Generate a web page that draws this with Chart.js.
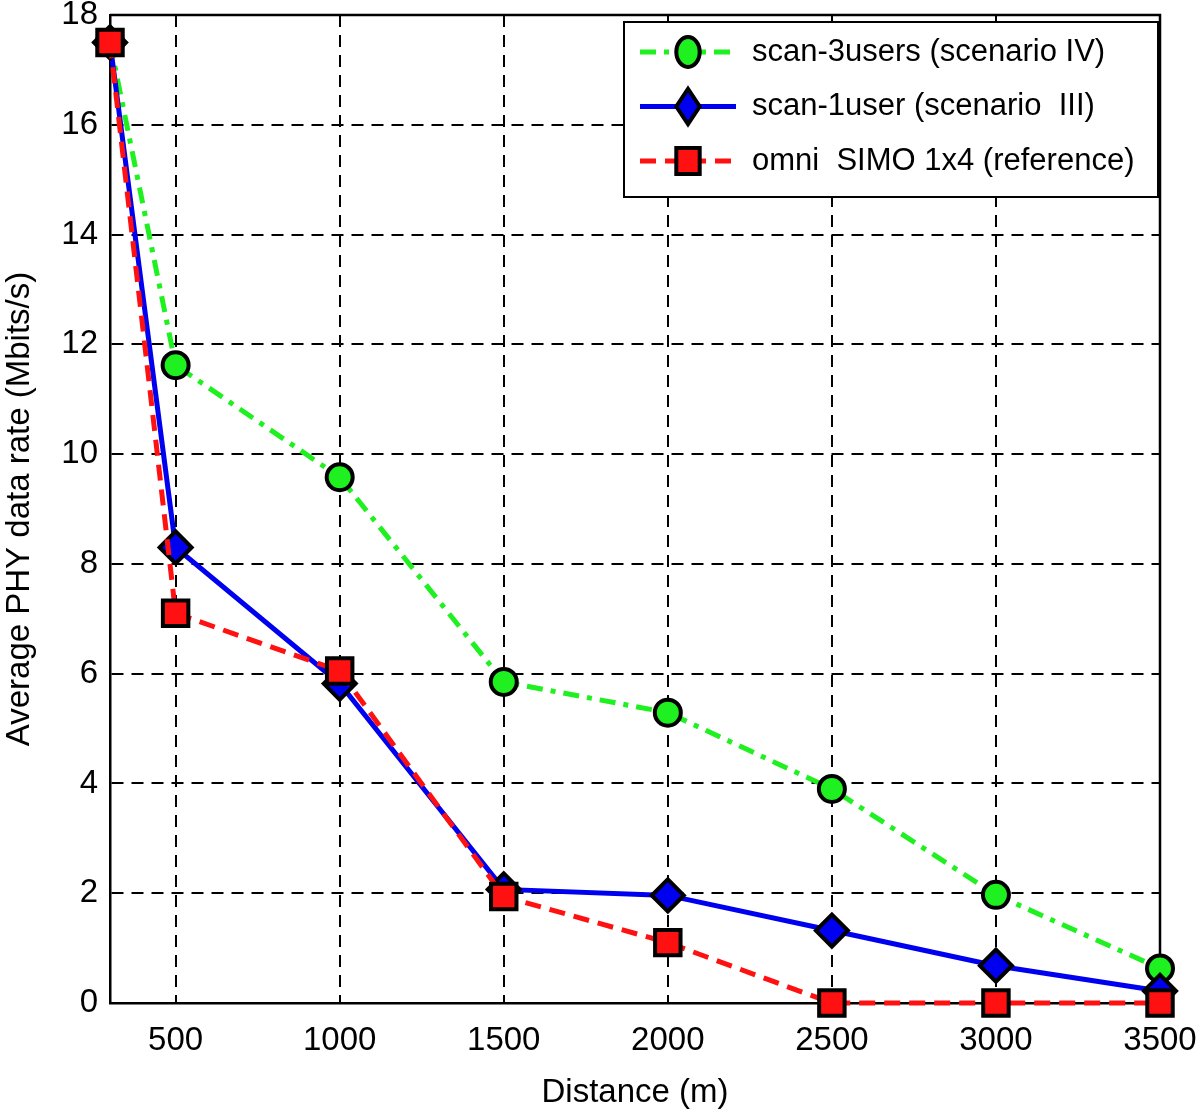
<!DOCTYPE html>
<html>
<head>
<meta charset="utf-8">
<script src="https://cdn.jsdelivr.net/npm/chart.js@4.4.1/dist/chart.umd.min.js"></script>
<style>
  html, body { margin: 0; padding: 0; background: #fff; overflow: hidden; }
  #wrap { width: 1200px; height: 1113px; overflow: hidden; }
  #C { display: block; margin-top: -7px; }
</style>
</head>
<body>
<div id="wrap"><canvas id="C" width="1200" height="1120"></canvas></div>
<script>
const distances = [300, 500, 1000, 1500, 2000, 2500, 3000, 3500];
const scan3users = [17.5, 11.62, 9.58, 5.85, 5.29, 3.9, 1.97, 0.63];
const scan1user = [17.5, 8.3, 5.82, 2.07, 1.96, 1.32, 0.68, 0.22];
const omniSimo = [17.5, 7.1, 6.05, 1.94, 1.1, 0, 0, 0];
const xTicks = [500, 1000, 1500, 2000, 2500, 3000, 3500];
const labels = ["scan-3users (scenario IV)", "scan-1user (scenario  III)", "omni  SIMO 1x4 (reference)"];

const FONT = "'Liberation Sans', Arial, sans-serif";

function pts(ys) {
  return distances.map((d, i) => ({ x: d, y: ys[i] }));
}

// frame on top and right side, like matlab box on
const boxPlugin = {
  id: "box",
  beforeDatasetsDraw(chart) {
    const a = chart.chartArea, ctx = chart.ctx;
    ctx.save();
    ctx.strokeStyle = "#000";
    ctx.lineWidth = 2.5;
    ctx.beginPath();
    ctx.moveTo(a.left, a.top);
    ctx.lineTo(a.right, a.top);
    ctx.lineTo(a.right, a.bottom);
    ctx.stroke();
    ctx.restore();
  }
};

function marker(ctx, style, x, y, r) {
  ctx.beginPath();
  if (style === "circle") {
    ctx.ellipse(x, y, r * 0.9, r * 1.15, 0, 0, Math.PI * 2);
  } else if (style === "rectRot") {
    ctx.moveTo(x, y - r * 1.35);
    ctx.lineTo(x + r * 0.9, y);
    ctx.lineTo(x, y + r * 1.35);
    ctx.lineTo(x - r * 0.9, y);
    ctx.closePath();
  } else {
    ctx.rect(x - r * 0.9, y - r * 1.0, r * 1.8, r * 2.0);
  }
  ctx.fill();
  ctx.stroke();
}

// legend box drawn inside the axes, top-right
const legendPlugin = {
  id: "boxLegend",
  afterDraw(chart) {
    const ctx = chart.ctx;
    const a = chart.chartArea;
    const x0 = 624, y0 = a.top + 7, w = 534, h = 175;
    ctx.save();
    ctx.fillStyle = "#fff";
    ctx.fillRect(x0, y0, w, h);
    ctx.strokeStyle = "#000";
    ctx.lineWidth = 2;
    ctx.strokeRect(x0, y0, w, h);
    chart.data.datasets.forEach((ds, i) => {
      const y = y0 + 30 + i * 54.5;
      ctx.strokeStyle = ds.borderColor;
      ctx.lineWidth = 5;
      ctx.setLineDash(ds.borderDash || []);
      ctx.beginPath();
      ctx.moveTo(x0 + 16, y);
      ctx.lineTo(x0 + 112, y);
      ctx.stroke();
      ctx.setLineDash([]);
      ctx.fillStyle = ds.pointBackgroundColor;
      ctx.strokeStyle = "#000";
      ctx.lineWidth = 4;
      marker(ctx, ds.pointStyle, x0 + 64, y, 13);
      ctx.fillStyle = "#000";
      ctx.font = "31px " + FONT;
      ctx.textBaseline = "middle";
      ctx.fillText(ds.label, x0 + 128, y);
    });
    ctx.restore();
  }
};

const chart = new Chart(document.getElementById("C").getContext("2d"), {
  type: "line",
  data: {
    datasets: [
      {
        label: labels[0],
        data: pts(scan3users),
        borderColor: "#1ff01f",
        borderWidth: 5,
        borderDash: [16, 8, 5, 8],
        pointStyle: "circle",
        pointRadius: 13,
        pointBackgroundColor: "#1ff01f",
        pointBorderColor: "#000",
        pointBorderWidth: 4,
        order: 3
      },
      {
        label: labels[1],
        data: pts(scan1user),
        borderColor: "#0000f0",
        borderWidth: 5,
        pointStyle: "rectRot",
        pointRadius: 16,
        pointBackgroundColor: "#0000f0",
        pointBorderColor: "#000",
        pointBorderWidth: 4,
        order: 2
      },
      {
        label: labels[2],
        data: pts(omniSimo),
        borderColor: "#ff1111",
        borderWidth: 5,
        borderDash: [16, 9],
        pointStyle: "rect",
        pointRadius: 18,
        pointBackgroundColor: "#ff1111",
        pointBorderColor: "#000",
        pointBorderWidth: 4,
        order: 1
      }
    ]
  },
  options: {
    responsive: false,
    animation: false,
    clip: false,
    layout: { padding: { left: 0, right: 40, top: 8, bottom: 0 } },
    plugins: {
      legend: { display: false },
      tooltip: { enabled: false }
    },
    scales: {
      x: {
        type: "linear",
        min: 300,
        max: 3500,
        afterBuildTicks(axis) {
          axis.ticks = xTicks.map(v => ({ value: v }));
        },
        afterFit(axis) {
          axis.height = 110;
          axis.paddingLeft = 0;
          axis.paddingRight = 0;
        },
        grid: {
          color: "#000",
          lineWidth: 2,
          drawTicks: false
        },
        border: { color: "#000", width: 2.5, dash: [12, 8] },
        ticks: {
          color: "#000",
          padding: 18,
          maxRotation: 0,
          callback: v => String(v),
          font: { family: FONT, size: 33 }
        },
        title: {
          display: true,
          text: "Distance (m)",
          color: "#000",
          padding: { top: 10, bottom: 0 },
          font: { family: FONT, size: 33 }
        }
      },
      y: {
        min: 0,
        max: 18,
        afterFit(axis) {
          axis.width = 110;
          axis.paddingTop = 0;
          axis.paddingBottom = 0;
        },
        grid: {
          color: "#000",
          lineWidth: 2,
          drawTicks: false
        },
        border: { color: "#000", width: 2.5, dash: [12, 8] },
        ticks: {
          stepSize: 2,
          color: "#000",
          padding: 12,
          callback: v => String(v),
          font: { family: FONT, size: 33 }
        },
        title: {
          display: true,
          text: "Average PHY data rate (Mbits/s)",
          color: "#000",
          padding: { top: 0, bottom: 4 },
          font: { family: FONT, size: 33 }
        }
      }
    }
  },
  plugins: [boxPlugin, legendPlugin]
});
</script>
</body>
</html>
